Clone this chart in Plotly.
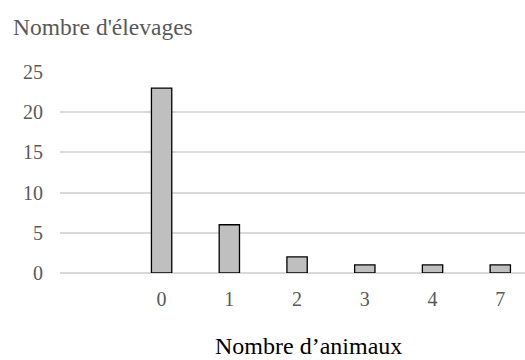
import plotly.graph_objects as go

categories = ["0", "1", "2", "3", "4", "7"]
values = [23, 6, 2, 1, 1, 1]
y_ticks = [0, 5, 10, 15, 20, 25]

fig = go.Figure()
fig.add_trace(go.Bar(
    x=categories, y=values, width=0.3,
    marker=dict(color="#bfbfbf", line=dict(color="#000000", width=1.3)),
))

font = "Liberation Serif, Times New Roman, serif"
fig.update_layout(
    width=525, height=360,
    margin=dict(l=60, r=0, t=72, b=87),
    plot_bgcolor="white", paper_bgcolor="white",
    showlegend=False,
    font=dict(family=font, size=20, color="#595959"),
    xaxis=dict(
        type="category", categoryorder="array", categoryarray=categories,
        range=[-1.5, 5.365], showgrid=False, zeroline=False, showline=False,
        ticks="", ticklabelstandoff=12,
        tickfont=dict(family=font, size=20, color="#595959"),
    ),
    yaxis=dict(
        range=[0, 25], tickvals=y_ticks, showgrid=True, gridcolor="#d9d9d9",
        gridwidth=1.5, zeroline=True, zerolinecolor="#d9d9d9", zerolinewidth=1.5,
        showline=False, ticks="", ticklabelstandoff=16,
        tickfont=dict(family=font, size=20, color="#595959"),
    ),
    annotations=[
        dict(text="Nombre d'élevages", xref="paper", yref="paper",
             x=-0.105, y=1.225, xanchor="left", yanchor="middle", showarrow=False,
             font=dict(family=font, size=23.5, color="#595959")),
        dict(text="Nombre d’animaux", xref="paper", yref="paper",
             x=0.535, y=-0.363, xanchor="center", yanchor="middle", showarrow=False,
             font=dict(family=font, size=24, color="#000000")),
    ],
)
fig.write_html("out.html", config={"displayModeBar": False},
               post_script="document.body.style.margin='0';document.body.style.overflow='hidden';")
